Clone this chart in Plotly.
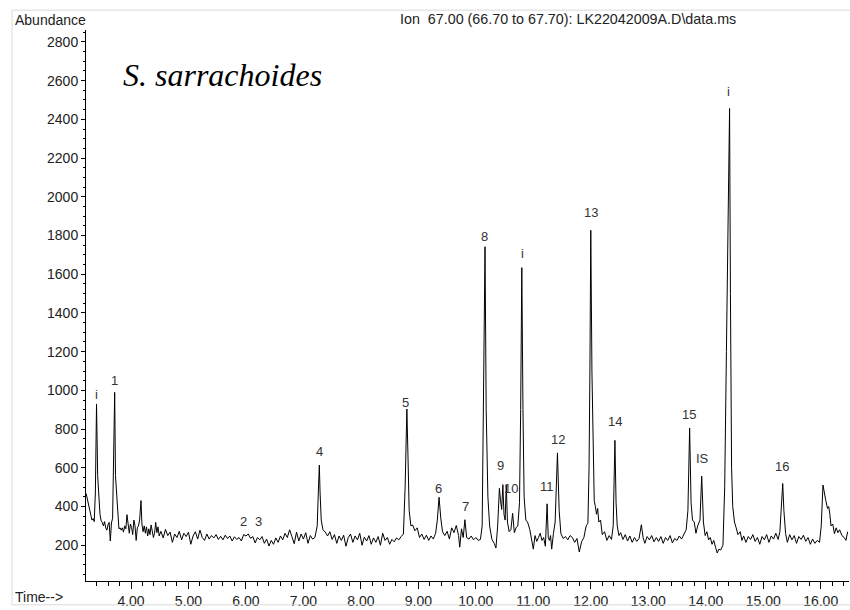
import plotly.graph_objects as go

# Extracted ion chromatogram, m/z 67.00 (66.70-67.70)
time_min = [
    3.22, 3.24, 3.26, 3.28, 3.30, 3.32, 3.34, 3.36, 3.38, 3.40, 3.42, 3.44, 3.46, 3.48, 3.50, 3.52,
    3.54, 3.56, 3.58, 3.60, 3.62, 3.64, 3.66, 3.68, 3.70, 3.716, 3.73, 3.75, 3.77, 3.79,
    3.81, 3.83, 3.85, 3.87, 3.89, 3.91, 3.93, 3.95, 3.97, 3.99, 4.01, 4.03, 4.05, 4.07, 4.09, 4.11,
    4.13, 4.15, 4.174, 4.19, 4.21, 4.23, 4.25, 4.27, 4.29, 4.31, 4.33, 4.35, 4.37, 4.39, 4.41, 4.43,
    4.45, 4.47, 4.49,
    4.52, 4.56, 4.60, 4.64, 4.68, 4.72, 4.76, 4.80, 4.84, 4.88, 4.92, 4.96, 5.00, 5.04, 5.08, 5.12,
    5.16, 5.20, 5.24, 5.28, 5.32, 5.36, 5.40, 5.44, 5.48, 5.52, 5.56, 5.60, 5.64, 5.68, 5.72, 5.76,
    5.80, 5.84, 5.88, 5.92, 5.96, 6.00, 6.04, 6.08, 6.12, 6.16, 6.20, 6.24, 6.28, 6.32, 6.36, 6.40,
    6.44, 6.48, 6.52, 6.56, 6.60, 6.64, 6.68, 6.72, 6.76, 6.80, 6.84, 6.88, 6.92, 6.96, 7.00, 7.04,
    7.08, 7.12, 7.16, 7.20, 7.24, 7.26, 7.277, 7.29, 7.31, 7.34,
    7.38, 7.42, 7.46, 7.50, 7.54, 7.58, 7.62, 7.66, 7.70, 7.74, 7.78, 7.82, 7.86, 7.90, 7.94, 7.98,
    8.02, 8.06, 8.10, 8.14, 8.18, 8.22, 8.26, 8.30, 8.34, 8.38, 8.42, 8.46, 8.50, 8.54, 8.58, 8.62,
    8.66, 8.70, 8.74, 8.77, 8.80, 8.82, 8.84, 8.87, 8.90, 8.94, 8.98,
    9.02, 9.06, 9.10, 9.14, 9.18, 9.22, 9.26, 9.30, 9.33, 9.36, 9.39, 9.42, 9.46, 9.50, 9.54, 9.58,
    9.62, 9.66, 9.70, 9.72, 9.75, 9.78, 9.81, 9.84, 9.88, 9.92, 9.96, 10.00, 10.04, 10.08, 10.11,
    10.13, 10.16, 10.18, 10.195, 10.21, 10.24, 10.28, 10.32, 10.35, 10.38, 10.41, 10.43, 10.45, 10.47,
    10.49, 10.51, 10.53, 10.55, 10.58, 10.61, 10.64, 10.67, 10.70, 10.73, 10.76, 10.78, 10.80, 10.82,
    10.84, 10.87, 10.90,
    10.94, 10.97, 11.00, 11.03, 11.06, 11.09, 11.12, 11.15, 11.18, 11.21, 11.24, 11.26, 11.28, 11.30,
    11.32, 11.35, 11.38, 11.42, 11.45, 11.48, 11.52, 11.56, 11.60, 11.64, 11.68, 11.72, 11.76, 11.80,
    11.84, 11.88, 11.92, 11.95, 11.97, 11.985, 12.00, 12.02, 12.04, 12.06,
    12.08, 12.10, 12.12, 12.14, 12.17, 12.20, 12.24, 12.28, 12.32, 12.36, 12.39, 12.42, 12.44, 12.46,
    12.49, 12.52, 12.56, 12.60, 12.64, 12.68, 12.72, 12.76, 12.80, 12.84, 12.88, 12.91, 12.94, 12.98,
    13.02, 13.06, 13.10, 13.14, 13.18, 13.22, 13.26, 13.30, 13.34, 13.38, 13.42, 13.46, 13.50, 13.54,
    13.58, 13.62, 13.66, 13.69, 13.72, 13.745,
    13.77, 13.80, 13.83, 13.86, 13.90, 13.93, 13.96, 13.99, 14.02, 14.05, 14.08, 14.11, 14.14, 14.17,
    14.20, 14.23, 14.26, 14.30, 14.33, 14.36, 14.38, 14.415, 14.43, 14.45, 14.47, 14.50,
    14.53, 14.56, 14.60, 14.63, 14.66, 14.70, 14.74, 14.78, 14.82, 14.86, 14.90, 14.94, 14.98, 15.02,
    15.06, 15.10, 15.14, 15.18, 15.22, 15.26, 15.29, 15.32, 15.34, 15.36, 15.39, 15.42, 15.46, 15.50,
    15.54, 15.58, 15.62, 15.66, 15.70, 15.74, 15.78, 15.82, 15.86, 15.90, 15.94, 15.98, 16.01, 16.04,
    16.06, 16.09, 16.12, 16.14, 16.16, 16.18, 16.21, 16.24, 16.27, 16.30, 16.33, 16.37, 16.41, 16.44,
    16.47,
]

abundance = [
    467, 440, 415, 395, 372, 330, 338, 322, 470, 930, 560, 430, 360, 328, 318, 300,
    322, 290, 278, 305, 318, 222, 315, 340, 640, 990, 560, 456, 380, 285,
    290, 278, 290, 268, 300, 285, 358, 300, 262, 310, 292, 255, 330, 300, 225, 290,
    300, 330, 431, 310, 270, 300, 262, 295, 248, 285, 255, 305, 275, 240, 262, 318,
    265, 295, 248,
    272, 238, 282, 250, 268, 215, 258, 240, 272, 228, 262, 245, 268, 205, 248, 270,
    232, 278, 240, 225, 258, 232, 250, 238, 255, 230, 246, 228, 252, 235, 248, 222,
    244, 230, 240, 222, 255, 248, 258, 236, 245, 212, 240, 228, 245, 210, 232, 196,
    225, 205, 238, 215, 248, 228, 262, 240, 280, 245, 208, 268, 222, 258, 232, 265,
    210, 250, 232, 240, 300, 480, 614, 470, 330, 280,
    268, 248, 270, 230, 255, 210, 248, 225, 252, 195, 240, 258, 215, 248, 228, 262,
    200, 242, 222, 250, 205, 238, 215, 245, 200, 262, 225, 240, 205, 230, 218, 238,
    228, 245, 258, 500, 904, 650, 380, 300, 305, 275, 290,
    240, 258, 230, 252, 225, 248, 232, 262, 330, 448, 340, 270, 250, 272, 232, 290,
    265, 302, 250, 190, 285, 240, 332, 240, 232, 248, 228, 240, 225, 230, 300,
    900, 1742, 900, 725, 450, 300, 230, 210, 186, 300, 494, 430, 385, 513,
    360, 330, 513, 320, 270, 280, 365, 265, 290, 300, 420, 900, 1634, 900,
    450, 330, 320,
    280, 230, 180, 250, 220, 240, 262, 225, 240, 195, 414, 240, 225, 250,
    180, 260, 320, 677, 380, 260, 235, 245, 228, 250, 240, 215, 235, 165,
    218, 240, 300, 314, 600, 1100, 1827, 1100, 650, 430,
    400, 360, 390, 320, 330, 255, 270, 225, 250, 230, 300, 742, 420, 300,
    250, 265, 230, 255, 222, 248, 215, 240, 220, 235, 306, 240, 210, 245,
    228, 250, 218, 240, 220, 245, 210, 240, 225, 250, 212, 235, 225, 248,
    232, 258, 280, 380, 805, 420,
    330, 320, 262, 300, 330, 557, 320, 250, 270, 228, 240, 205, 225, 190,
    160, 180, 175, 200, 500, 1200, 1700, 2456, 1500, 600, 400, 320,
    290, 255, 270, 225, 248, 215, 245, 230, 255, 220, 240, 205, 245, 228,
    255, 215, 248, 232, 262, 230, 270, 400, 519, 380, 260, 215, 255, 228,
    250, 210, 245, 230, 252, 220, 240, 205, 232, 210, 225, 215, 300, 511,
    470, 430, 390, 400, 360, 300, 310, 260, 290, 265, 280, 250, 240, 225,
    270,
]

# Peak identifiers: label, retention time, label height
peak_labels = ["i", "1", "2", "3", "4", "5", "6", "7", "8", "9", "10", "i",
               "11", "12", "13", "14", "15", "IS", "i", "16"]
peak_times = [3.403, 3.709, 5.954, 6.227, 7.277, 8.78, 9.359, 9.812, 10.159, 10.421,
              10.607, 10.816, 11.233, 11.435, 11.999, 12.422, 13.715, 13.941, 14.393, 15.322]
label_heights = [979, 1053, 323, 323, 682, 935, 494, 400, 1796, 614,
                 494, 1708, 503, 745, 1918, 841, 873, 648, 2545, 605]

W, H = 850, 610
ML, MR, MT, MB = 86, 1, 30, 25
PW, PH = W - ML - MR, H - MT - MB


def px(xpix):
    return (xpix - ML) / PW


def py(ypix):
    return (H - MB - ypix) / PH


fig = go.Figure()
fig.add_trace(go.Scatter(
    x=time_min, y=abundance, mode="lines",
    line=dict(color="#000000", width=1),
    hoverinfo="skip", showlegend=False,
))

font = dict(family="Liberation Sans, Arial, sans-serif", size=14, color="#222222")
title_font = dict(family="Liberation Sans, Arial, sans-serif", size=14.3, color="#222222")
label_font = dict(family="Liberation Sans, Arial, sans-serif", size=13, color="#333333")

annotations = []
for lab, t, h in zip(peak_labels, peak_times, label_heights):
    annotations.append(dict(x=t, y=h, xref="x", yref="y", text=lab, showarrow=False,
                            xanchor="center", yanchor="middle", font=label_font))

annotations += [
    dict(x=px(12.5), y=py(20), xref="paper", yref="paper", text="Abundance",
         showarrow=False, xanchor="left", yanchor="middle", font=font),
    dict(x=px(398), y=py(19), xref="paper", yref="paper",
         text="Ion\u00a0 67.00 (66.70 to 67.70): LK22042009A.D\\data.ms",
         showarrow=False, xanchor="left", yanchor="middle", font=title_font),
    dict(x=px(13), y=py(601), xref="paper", yref="paper", text="Time-->",
         showarrow=False, xanchor="left", yanchor="middle", font=font),
    dict(x=px(121), y=py(75), xref="paper", yref="paper", text="<i>S. sarrachoides</i>",
         showarrow=False, xanchor="left", yanchor="middle",
         font=dict(family="Liberation Serif, Times New Roman, serif", size=32, color="#000000")),
]

frame = dict(color="#d9d9d9", width=1)
shapes = [
    dict(type="line", xref="paper", yref="paper", x0=px(12), x1=px(851), y0=py(10), y1=py(10), line=frame),
    dict(type="line", xref="paper", yref="paper", x0=px(12), x1=px(12), y0=py(10), y1=py(609), line=frame),
    dict(type="line", xref="paper", yref="paper", x0=px(12), x1=px(851), y0=py(609), y1=py(609), line=frame),
]

fig.update_layout(
    width=W, height=H,
    margin=dict(l=ML, r=MR, t=MT, b=MB, pad=0),
    paper_bgcolor="white", plot_bgcolor="white",
    annotations=annotations, shapes=shapes,
    xaxis=dict(
        range=[3.217, 16.493], showgrid=False, zeroline=False,
        showline=True, linecolor="black", linewidth=1,
        tick0=0, dtick=1, tickformat=".2f", ticks="outside", ticklen=7,
        tickcolor="black", tickwidth=1, tickfont=font,
        minor=dict(dtick=0.2, ticks="outside", ticklen=4, tickcolor="black", tickwidth=1),
    ),
    yaxis=dict(
        range=[15.4, 2861.5], showgrid=False, zeroline=False,
        showline=True, linecolor="black", linewidth=1,
        tick0=0, dtick=200, ticks="outside", ticklen=4,
        tickcolor="black", tickwidth=1, tickfont=font,
        minor=dict(dtick=50, ticks="outside", ticklen=2, tickcolor="black", tickwidth=1),
    ),
)

fig.write_html("out.html")
